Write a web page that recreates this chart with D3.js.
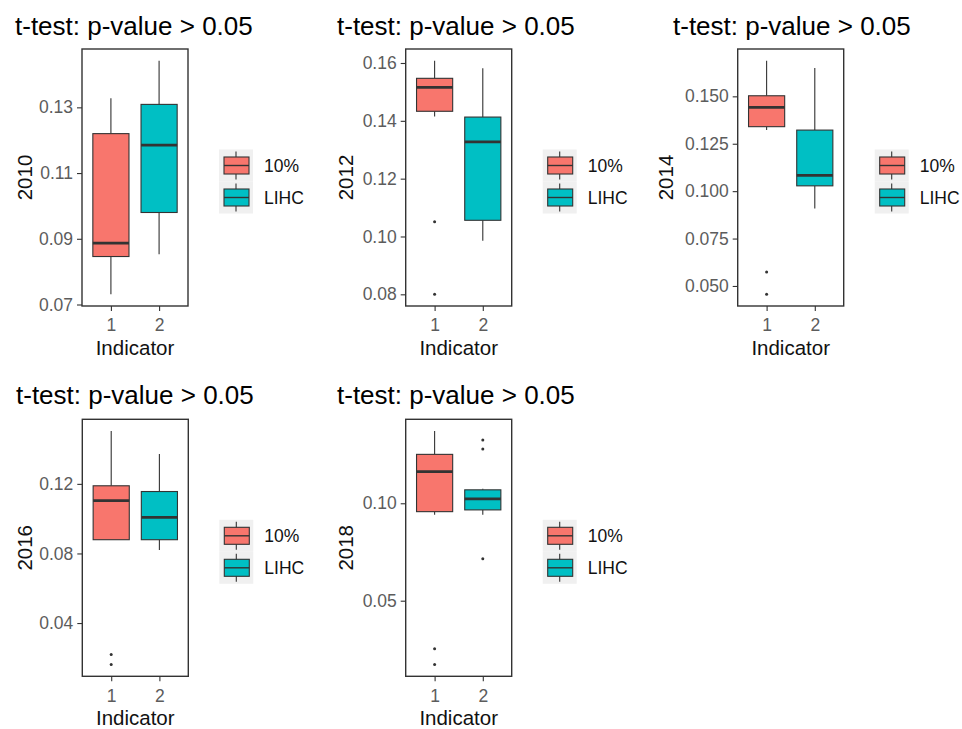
<!DOCTYPE html>
<html>
<head>
<meta charset="utf-8">
<script src="https://cdn.jsdelivr.net/npm/d3@7"></script>
<style>
  html, body { margin: 0; padding: 0; background: #ffffff; }
  svg { display: block; }
  text { font-family: "Liberation Sans", Arial, sans-serif; }
</style>
</head>
<body>
<svg id="chart" width="962" height="729"></svg>
<script>
// ---- data -------------------------------------------------------------
const years = ["2010", "2012", "2014", "2016", "2018"];
const groups = ["10%", "LIHC"];
const indicators = ["1", "2"];
const titleText = "t-test: p-value > 0.05";
const xTitle = "Indicator";

// box statistics per indicator: [lower whisker, Q1, median, Q3, upper whisker]
const box2010 = [[0.0731, 0.0846, 0.0887, 0.1220, 0.1328], [0.0853, 0.0980, 0.1185, 0.1309, 0.1442]];
const box2012 = [[0.1415, 0.1433, 0.1516, 0.1547, 0.1608], [0.0985, 0.1056, 0.1327, 0.1413, 0.1582]];
const box2014 = [[0.1322, 0.1340, 0.1442, 0.1503, 0.1688], [0.0909, 0.1028, 0.1083, 0.1322, 0.1650]];
const box2016 = [[0.0879, 0.0879, 0.1104, 0.1189, 0.1504], [0.0820, 0.0879, 0.1007, 0.1156, 0.1372]];
const box2018 = [[0.0941, 0.0957, 0.1162, 0.1251, 0.1371], [0.0941, 0.0966, 0.1023, 0.1069, 0.1074]];

// outlying points per indicator
const out2010 = [[], []];
const out2012 = [[0.1051, 0.0800], []];
const out2014 = [[0.0574, 0.0456], []];
const out2016 = [[0.0219, 0.0161], []];
const out2018 = [[0.0254, 0.0172], [0.1325, 0.1279, 0.0715]];

// y tick labels
const ticks2010 = ["0.07", "0.09", "0.11", "0.13"];
const ticks2012 = ["0.08", "0.10", "0.12", "0.14", "0.16"];
const ticks2014 = ["0.050", "0.075", "0.100", "0.125", "0.150"];
const ticks2016 = ["0.04", "0.08", "0.12"];
const ticks2018 = ["0.05", "0.10"];

const panels = [
  { year: years[0], box: box2010, out: out2010, ticks: ticks2010 },
  { year: years[1], box: box2012, out: out2012, ticks: ticks2012 },
  { year: years[2], box: box2014, out: out2014, ticks: ticks2014 },
  { year: years[3], box: box2016, out: out2016, ticks: ticks2016 },
  { year: years[4], box: box2018, out: out2018, ticks: ticks2018 }
];

// ---- layout & style ---------------------------------------------------
const layout = [
  { titleX: 15,  titleY: 35,  left: 82,    top: 49,    ylabX: 25 },
  { titleX: 337, titleY: 35,  left: 405.7, top: 49,    ylabX: 345.5 },
  { titleX: 673, titleY: 35,  left: 737.7, top: 49,    ylabX: 665.5 },
  { titleX: 16,  titleY: 404, left: 82.3,  top: 419.3, ylabX: 25 },
  { titleX: 337, titleY: 404, left: 405.7, top: 419.3, ylabX: 345.5 }
];
const PW = 106, PH = 257;
const fillColors = ["#F8766D", "#00BFC4"];
const ink = "#333333";

const svg = d3.select("#chart");
svg.append("rect").attr("width", 962).attr("height", 729).attr("fill", "#ffffff");

panels.forEach((p, i) => {
  const L = layout[i];
  const g = svg.append("g");

  const allVals = p.box.flat().concat(p.out.flat());
  const [mn, mx] = d3.extent(allVals);
  const pad = (mx - mn) * 0.05;

  const y = d3.scaleLinear().domain([mn - pad, mx + pad]).range([L.top + PH, L.top]);
  const x = d3.scalePoint().domain(indicators).range([L.left, L.left + PW]).padding(0.6);
  const bw = x.step() * 0.75;

  // title
  g.append("text")
    .attr("x", L.titleX).attr("y", L.titleY)
    .attr("font-size", 26).attr("fill", "#000")
    .text(titleText);

  // boxes
  indicators.forEach((ind, k) => {
    const s = p.box[k];
    const cx = x(ind);
    const bg = g.append("g");
    bg.append("line")
      .attr("x1", cx).attr("x2", cx).attr("y1", y(s[4])).attr("y2", y(s[3]))
      .attr("stroke", ink).attr("stroke-width", 1.1);
    bg.append("line")
      .attr("x1", cx).attr("x2", cx).attr("y1", y(s[1])).attr("y2", y(s[0]))
      .attr("stroke", ink).attr("stroke-width", 1.1);
    bg.append("rect")
      .attr("x", cx - bw / 2).attr("y", y(s[3]))
      .attr("width", bw).attr("height", y(s[1]) - y(s[3]))
      .attr("fill", fillColors[k]).attr("stroke", ink).attr("stroke-width", 1.1);
    bg.append("line")
      .attr("x1", cx - bw / 2).attr("x2", cx + bw / 2)
      .attr("y1", y(s[2])).attr("y2", y(s[2]))
      .attr("stroke", ink).attr("stroke-width", 2.8);
    bg.selectAll("circle.out").data(p.out[k]).enter().append("circle")
      .attr("cx", cx).attr("cy", d => y(d)).attr("r", 1.5)
      .attr("fill", ink);
  });

  // panel border
  g.append("rect")
    .attr("x", L.left).attr("y", L.top).attr("width", PW).attr("height", PH)
    .attr("fill", "none").attr("stroke", ink).attr("stroke-width", 1.4);

  // y axis
  const yAxis = d3.axisLeft(y)
    .tickValues(p.ticks.map(Number))
    .tickFormat((d, j) => p.ticks[j])
    .tickSize(5).tickPadding(4);
  const ya = g.append("g").attr("transform", `translate(${L.left},0)`).call(yAxis);
  ya.select(".domain").remove();
  ya.selectAll(".tick line").attr("stroke", ink).attr("stroke-width", 1.1);
  ya.selectAll(".tick text").attr("font-size", 17.5).attr("fill", "#5c5c5c")
    .attr("font-family", "'Liberation Sans', Arial, sans-serif");

  // x axis
  const xAxis = d3.axisBottom(x).tickSize(5).tickPadding(8);
  const xa = g.append("g").attr("transform", `translate(0,${L.top + PH})`).call(xAxis);
  xa.select(".domain").remove();
  xa.selectAll(".tick line").attr("stroke", ink).attr("stroke-width", 1.1);
  xa.selectAll(".tick text").attr("font-size", 17.5).attr("fill", "#5c5c5c")
    .attr("font-family", "'Liberation Sans', Arial, sans-serif");

  // axis titles
  g.append("text")
    .attr("x", L.left + PW / 2).attr("y", L.top + PH + 49)
    .attr("text-anchor", "middle").attr("font-size", 20.5).attr("fill", "#111")
    .text(xTitle);
  g.append("text")
    .attr("transform", `translate(${L.ylabX + 7},${L.top + PH / 2}) rotate(-90)`)
    .attr("text-anchor", "middle").attr("font-size", 20.5).attr("fill", "#111")
    .text(p.year);

  // legend
  const lx = L.left + PW + 31;
  const ly = L.top + PH / 2 + 4 - 32;
  const lg = g.append("g").attr("transform", `translate(${lx},${ly})`);
  groups.forEach((grp, k) => {
    const cy = k * 32;
    lg.append("rect").attr("x", 0).attr("y", cy).attr("width", 34).attr("height", 32)
      .attr("fill", "#F0F0F0");
    lg.append("line").attr("x1", 17).attr("x2", 17).attr("y1", cy + 2).attr("y2", cy + 30)
      .attr("stroke", ink).attr("stroke-width", 1.1);
    lg.append("rect").attr("x", 5).attr("y", cy + 7.5).attr("width", 25).attr("height", 17)
      .attr("fill", fillColors[k]).attr("stroke", ink).attr("stroke-width", 1.1);
    lg.append("line").attr("x1", 5).attr("x2", 30).attr("y1", cy + 16).attr("y2", cy + 16)
      .attr("stroke", ink).attr("stroke-width", 1.4);
    lg.append("text").attr("x", 45).attr("y", cy + 16).attr("dy", "0.35em")
      .attr("font-size", 17.5).attr("fill", "#111").text(grp);
  });
});
</script>
</body>
</html>
